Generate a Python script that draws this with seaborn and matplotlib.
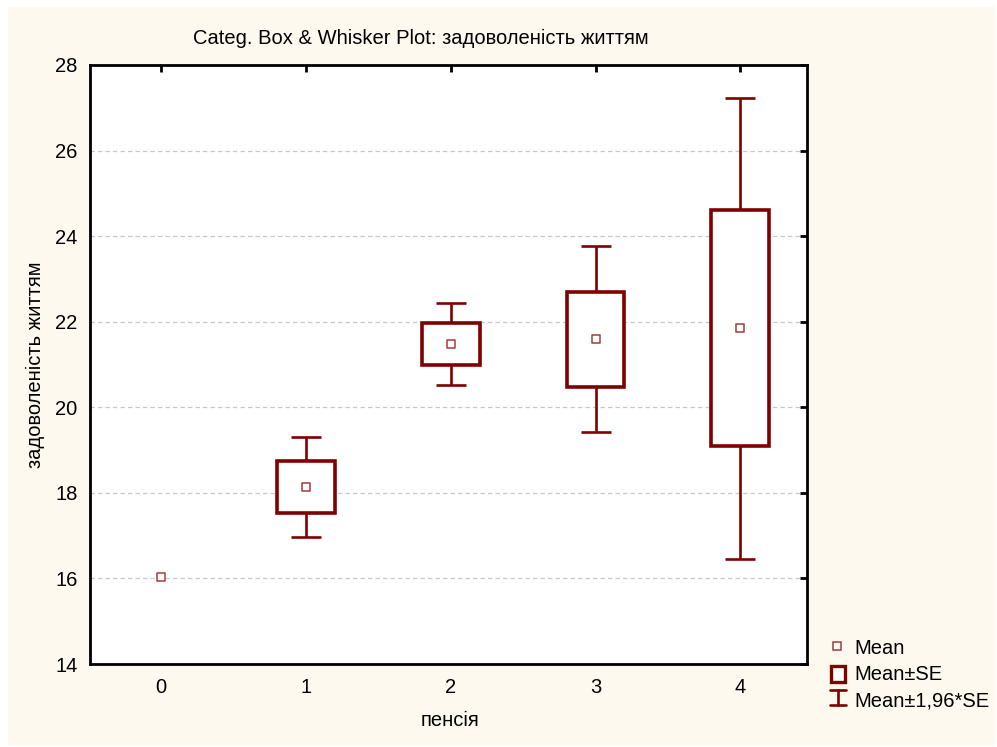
import numpy as np
import pandas as pd
import matplotlib
matplotlib.use("Agg")
import matplotlib.pyplot as plt
from matplotlib.patches import Rectangle
from matplotlib.lines import Line2D
import seaborn as sns

# Group means and standard errors of life satisfaction by pension category
categories = [0, 1, 2, 3, 4]
means = [16.03, 18.14, 21.48, 21.59, 21.85]
std_err = [np.nan, 0.60, 0.49, 1.11, 2.75]

title = "Categ. Box & Whisker Plot: задоволеність життям"
x_label = "пенсія"
y_label = "задоволеність життям"
y_ticks = [14, 16, 18, 20, 22, 24, 26, 28]
legend_labels = ["Mean", "Mean±SE", "Mean±1,96*SE"]

df = pd.DataFrame({"pension": categories, "mean": means, "se": std_err})
df["lo_se"] = df["mean"] - df["se"]
df["hi_se"] = df["mean"] + df["se"]
df["lo_ci"] = df["mean"] - 1.96 * df["se"]
df["hi_ci"] = df["mean"] + 1.96 * df["se"]

sns.set_theme(style="white")
plt.rcParams["font.family"] = ["Liberation Sans", "DejaVu Sans"]
plt.rcParams["text.color"] = "black"

dark_red = "#800000"
mean_edge = "#A83A3A"
cream = "#FDF9EE"
W, H = 997, 747
fs = 14.5

fig = plt.figure(figsize=(W / 100, H / 100), dpi=100, facecolor="white")
fig.patches.append(Rectangle((8 / W, 2 / H), 987 / W, 738 / H,
                             transform=fig.transFigure, facecolor=cream,
                             edgecolor="none", zorder=-10))
ax = fig.add_axes([90 / W, 83 / H, 717 / W, 599 / H])
ax.set_facecolor("white")

boxed = df.dropna(subset=["se"])

# whiskers: mean ± 1.96*SE
ax.errorbar(boxed["pension"], boxed["mean"],
            yerr=[boxed["mean"] - boxed["lo_ci"], boxed["hi_ci"] - boxed["mean"]],
            fmt="none", ecolor=dark_red, elinewidth=1.9, capsize=10.5,
            capthick=1.9, zorder=2)
# boxes: mean ± SE
ax.bar(boxed["pension"], boxed["hi_se"] - boxed["lo_se"], bottom=boxed["lo_se"],
       width=0.4, facecolor="white", edgecolor=dark_red, linewidth=2.6, zorder=3)
# means
sns.scatterplot(data=df, x="pension", y="mean", ax=ax, marker="s", s=40,
                facecolor="white", edgecolor=mean_edge, linewidth=1.1,
                zorder=4, legend=False)

ax.set_xlim(-0.49, 4.46)
ax.set_ylim(14, 28)
ax.set_xticks(categories)
ax.set_yticks(y_ticks)
ax.set_xticklabels([str(c) for c in categories])
ax.set_xlabel("")
ax.set_ylabel("")
for y in y_ticks[1:-1]:
    ax.axhline(y, color="#C8C8C8", linestyle=(0, (3.5, 2.5)), linewidth=0.9, zorder=0)

for s in ax.spines.values():
    s.set_visible(True)
    s.set_color("black")
    s.set_linewidth(2.0)
ax.tick_params(direction="in", length=5, width=2, colors="black",
               top=True, right=True, labelsize=fs, pad=10,
               labelcolor="black")
ax.tick_params(axis="y", pad=9)

fig.text(421 / W, 1 - 38 / H, title, ha="center", va="center", fontsize=fs,
         color="black")
fig.text(450 / W, 1 - 720 / H, x_label, ha="center", va="center", fontsize=fs,
         color="black")
fig.text(35 / W, 1 - 365 / H, y_label, ha="center", va="center",
         rotation=90, fontsize=fs, color="black")


# legend symbols, positioned in figure pixels
def px(x, y):
    return x / W, 1 - y / H


tr = fig.transFigure
fig.add_artist(Line2D(*zip(px(836.5, 645.5)), transform=tr, marker="s",
                      markersize=5.5, markerfacecolor="white",
                      markeredgecolor=mean_edge, markeredgewidth=1.1))
x0, y0 = px(831, 682)
fig.add_artist(Rectangle((x0, y0), 14 / W, 16 / H, transform=tr,
                         facecolor="white", edgecolor=dark_red, linewidth=2.4))
for xs, ys in [((838, 838), (690, 705)), ((830, 846), (690, 690)),
               ((830, 846), (705, 705))]:
    fig.add_artist(Line2D([x / W for x in xs], [1 - y / H for y in ys],
                          transform=tr, color=dark_red, linewidth=1.9))
for label, yc in zip(legend_labels, [648, 674, 701]):
    fig.text(854 / W, 1 - yc / H, label, ha="left", va="center", fontsize=fs,
             color="black")

fig.savefig("out.png", dpi=100, facecolor=fig.get_facecolor())
